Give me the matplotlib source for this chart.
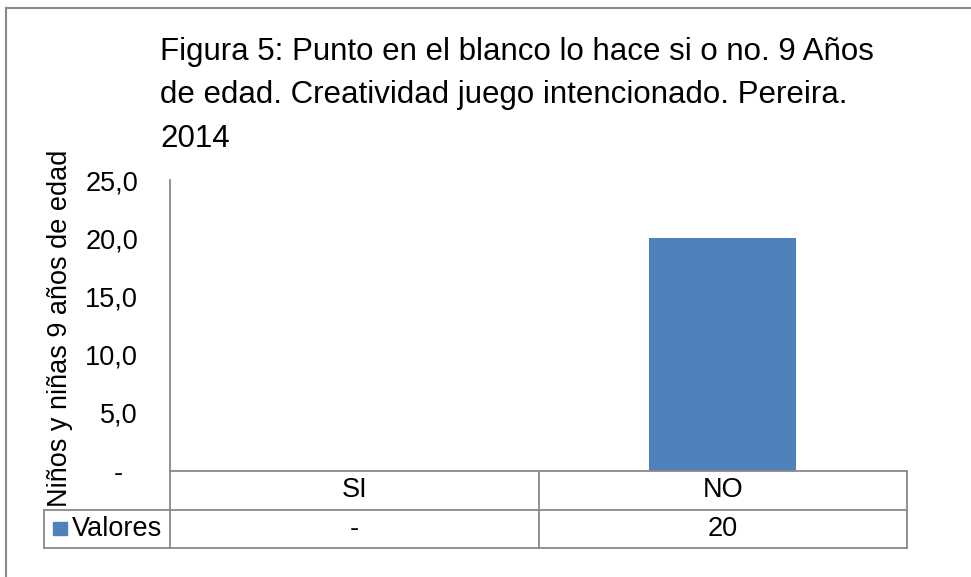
import matplotlib
matplotlib.use("Agg")
import matplotlib.pyplot as plt
from matplotlib.patches import Rectangle
from matplotlib.lines import Line2D
import matplotlib.transforms as mtransforms

plt.rcParams['font.family'] = ['Liberation Sans', 'DejaVu Sans']

categories = ["SI", "NO"]
values = [0, 20]
table_values = ["-", "20"]
series_name = "Valores"
yticks = [0, 5, 10, 15, 20, 25]
ytick_labels = ["-  ", "5,0", "10,0", "15,0", "20,0", "25,0"]
title = "Figura 5: Punto en el blanco lo hace si o no. 9 Años\nde edad. Creatividad juego intencionado. Pereira.\n2014"
ylabel = "Niños y niñas 9 años de edad"

W, H = 971, 577
fig = plt.figure(figsize=(W / 100, H / 100), dpi=100)
GRAY = "#898989"
BLUE = "#4F81BD"
FS = 19.5

def fx(px):
    return px / W

def fy(py):
    return 1 - py / H

# outer border (only top and left visible in the reference crop)
fig.add_artist(Line2D([fx(6), 1.0], [fy(8), fy(8)], transform=fig.transFigure, color=GRAY, lw=1.5))
fig.add_artist(Line2D([fx(6), fx(6)], [fy(8), 0.0], transform=fig.transFigure, color=GRAY, lw=1.5))

L, R, T, B = 170, 907, 180, 471
ax = fig.add_axes([fx(L), fy(B), fx(R) - fx(L), fy(T) - fy(B)])
x = list(range(len(categories)))
ax.bar(x, values, width=0.4, color=BLUE, zorder=2)
ax.set_xlim(-0.5, len(categories) - 0.5)
ax.set_ylim(0, 25)
ax.set_yticks(yticks)
ax.set_yticklabels(ytick_labels, fontsize=FS)
ax.tick_params(axis='y', length=0, pad=23)
ax.set_xticks([])
for s in ["top", "right", "bottom"]:
    ax.spines[s].set_visible(False)
ax.spines["left"].set_color(GRAY)
ax.spines["left"].set_linewidth(1.3)

# data table below axes: x in data coords, y in pixels
row_h = 38.5
def ty(py):
    return (B - py) / (B - T)

trans = mtransforms.blended_transform_factory(ax.transData, ax.transAxes)
lkw = dict(color=GRAY, lw=1.3, clip_on=False)
xs = [-0.5 + i for i in range(len(categories) + 1)]
y0, y1, y2 = ty(B), ty(B + row_h), ty(B + 2 * row_h)
for yy in (y0, y1, y2):
    ax.add_line(Line2D([xs[0], xs[-1]], [yy, yy], transform=trans, **lkw))
ax.add_line(Line2D([xs[0], xs[0]], [y0, y2], transform=trans, **lkw))
for xx in xs[1:]:
    ax.add_line(Line2D([xx, xx], [y0, y2], transform=trans, **lkw))
for i, (c, v) in enumerate(zip(categories, table_values)):
    ax.text(i, (y0 + y1) / 2, c, transform=trans, ha='center', va='center', fontsize=FS)
    ax.text(i, (y1 + y2) / 2, v, transform=trans, ha='center', va='center', fontsize=FS)

# legend cell
lx0 = 44
fig.add_artist(Line2D([fx(lx0), fx(L)], [fy(B + row_h), fy(B + row_h)], transform=fig.transFigure, color=GRAY, lw=1.3))
fig.add_artist(Line2D([fx(lx0), fx(L)], [fy(B + 2 * row_h), fy(B + 2 * row_h)], transform=fig.transFigure, color=GRAY, lw=1.3))
fig.add_artist(Line2D([fx(lx0), fx(lx0)], [fy(B + row_h), fy(B + 2 * row_h)], transform=fig.transFigure, color=GRAY, lw=1.3))
fig.patches.append(Rectangle((fx(53), fy(535)), fx(67) - fx(53), fy(522) - fy(535),
                             transform=fig.transFigure, color=BLUE))
fig.text(fx(72), fy(B + 1.5 * row_h), series_name, ha='left', va='center', fontsize=FS)

# title
fig.text(fx(160), fy(37), title, ha='left', va='top', fontsize=22.5, linespacing=1.58)

# y label
fig.text(fx(60), fy(328), ylabel, rotation=90, ha='center', va='center', fontsize=FS)

fig.savefig("out.png", dpi=100)
